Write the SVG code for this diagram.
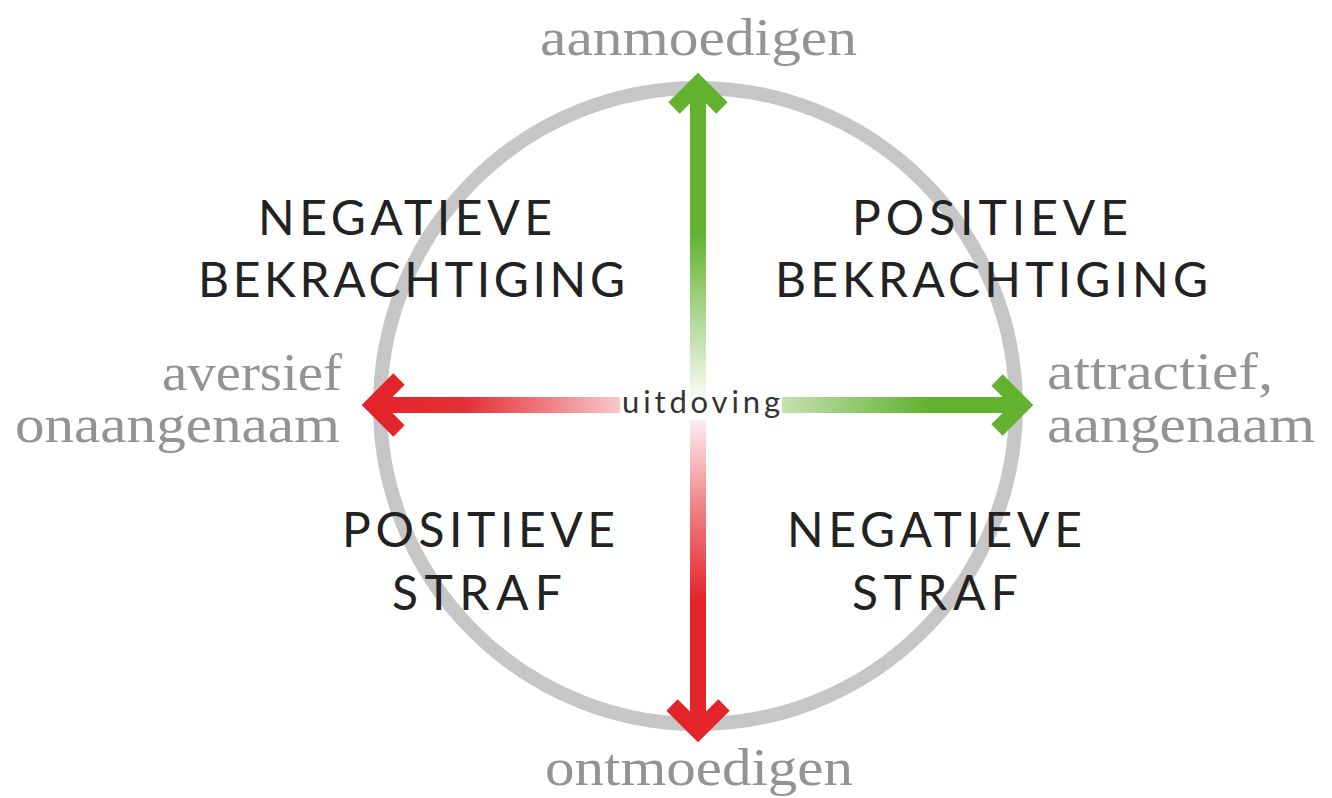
<svg xmlns="http://www.w3.org/2000/svg" width="1332" height="798" viewBox="0 0 1332 798">
<style>
.quad{font-family:Lato,"Open Sans","DejaVu Sans",sans-serif;font-size:48px;fill:#222;}
.pole{font-family:"Liberation Serif","DejaVu Serif",serif;font-size:52px;fill:#939393;}
.mid{font-family:Lato,"Open Sans","DejaVu Sans",sans-serif;font-size:31px;fill:#333;}
.shaft{fill:none;stroke-width:16;}
.head{fill:none;stroke-width:16;stroke-linejoin:miter;stroke-linecap:butt;}
</style>
<defs>
<linearGradient id="gUp" gradientUnits="userSpaceOnUse" x1="0" y1="406" x2="0" y2="90">
<stop offset="0" stop-color="#62b22f" stop-opacity="0"/>
<stop offset="0.3" stop-color="#62b22f" stop-opacity="0.55"/>
<stop offset="0.55" stop-color="#62b22f" stop-opacity="1"/>
<stop offset="1" stop-color="#62b22f" stop-opacity="1"/>
</linearGradient>
<linearGradient id="gRight" gradientUnits="userSpaceOnUse" x1="700" y1="0" x2="1025" y2="0">
<stop offset="0" stop-color="#62b22f" stop-opacity="0"/>
<stop offset="0.3" stop-color="#62b22f" stop-opacity="0.45"/>
<stop offset="0.7" stop-color="#62b22f" stop-opacity="1"/>
<stop offset="1" stop-color="#62b22f" stop-opacity="1"/>
</linearGradient>
<linearGradient id="gLeft" gradientUnits="userSpaceOnUse" x1="640" y1="0" x2="370" y2="0">
<stop offset="0" stop-color="#e3242b" stop-opacity="0.15"/>
<stop offset="0.35" stop-color="#e3242b" stop-opacity="0.6"/>
<stop offset="0.65" stop-color="#e3242b" stop-opacity="0.95"/>
<stop offset="1" stop-color="#e3242b" stop-opacity="1"/>
</linearGradient>
<linearGradient id="gDown" gradientUnits="userSpaceOnUse" x1="0" y1="406" x2="0" y2="730">
<stop offset="0" stop-color="#e3242b" stop-opacity="0"/>
<stop offset="0.3" stop-color="#e3242b" stop-opacity="0.55"/>
<stop offset="0.6" stop-color="#e3242b" stop-opacity="1"/>
<stop offset="1" stop-color="#e3242b" stop-opacity="1"/>
</linearGradient>
</defs>
<rect width="1332" height="798" fill="#fff"/>
<g id="circle">
<circle cx="698" cy="406" r="318" fill="none" stroke="#c6c6c6" stroke-width="14"/>
</g>
<g id="quadrants">
<g id="neg-bekrachtiging">
<text class="quad" x="258" y="235" textLength="294" lengthAdjust="spacing">NEGATIEVE</text>
<text class="quad" x="198" y="297" textLength="427" lengthAdjust="spacing">BEKRACHTIGING</text>
</g>
<g id="pos-bekrachtiging">
<text class="quad" x="852" y="235" textLength="276" lengthAdjust="spacing">POSITIEVE</text>
<text class="quad" x="775" y="297" textLength="433" lengthAdjust="spacing">BEKRACHTIGING</text>
</g>
<g id="pos-straf">
<text class="quad" x="342" y="547" textLength="273" lengthAdjust="spacing">POSITIEVE</text>
<text class="quad" x="392" y="610" textLength="170" lengthAdjust="spacing">STRAF</text>
</g>
<g id="neg-straf">
<text class="quad" x="787" y="547" textLength="295" lengthAdjust="spacing">NEGATIEVE</text>
<text class="quad" x="852" y="610" textLength="166" lengthAdjust="spacing">STRAF</text>
</g>
</g>
<g id="connectors">
<line class="shaft" x1="698" y1="406" x2="698" y2="86" stroke="url(#gUp)"/>
<path class="head" d="M674 108 L698 84 L722 108" stroke="#62b22f"/>
<line class="shaft" x1="782" y1="405" x2="1020" y2="405" stroke="url(#gRight)"/>
<path class="head" d="M997 380 L1022 405 L997 430" stroke="#62b22f"/>
<line class="shaft" x1="620" y1="405" x2="376" y2="405" stroke="url(#gLeft)"/>
<path class="head" d="M399 379 L373 405 L399 431" stroke="#e3242b"/>
<line class="shaft" x1="698" y1="420" x2="698" y2="728" stroke="url(#gDown)"/>
<path class="head" d="M672 705 L698 731 L724 705" stroke="#e3242b"/>
</g>
<g id="center">
<text class="mid" x="622" y="413" textLength="158" lengthAdjust="spacing">uitdoving</text>
</g>
<g id="poles">
<g id="top"><text class="pole" x="540" y="55" textLength="317" lengthAdjust="spacingAndGlyphs">aanmoedigen</text></g>
<g id="bottom"><text class="pole" x="545" y="785" textLength="308" lengthAdjust="spacingAndGlyphs">ontmoedigen</text></g>
<g id="left">
<text class="pole" x="162" y="390" textLength="180" lengthAdjust="spacingAndGlyphs">aversief</text>
<text class="pole" x="15" y="442" textLength="325" lengthAdjust="spacingAndGlyphs">onaangenaam</text>
</g>
<g id="right">
<text class="pole" x="1047" y="389" textLength="226" lengthAdjust="spacingAndGlyphs">attractief,</text>
<text class="pole" x="1047" y="442" textLength="268" lengthAdjust="spacingAndGlyphs">aangenaam</text>
</g>
</g>
</svg>
